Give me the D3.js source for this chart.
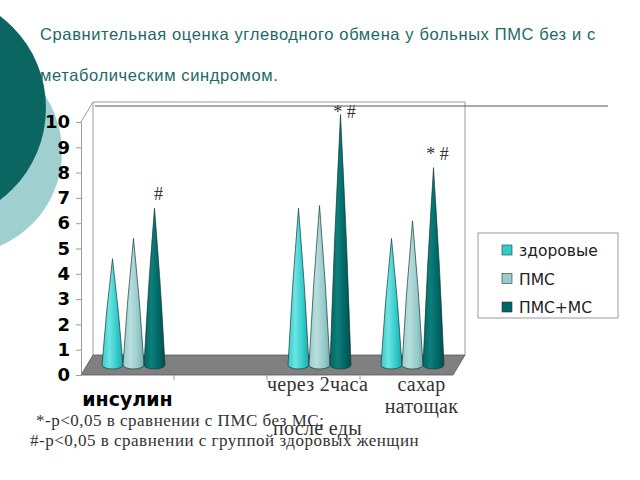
<!DOCTYPE html>
<html>
<head>
<meta charset="utf-8">
<script src="https://cdn.jsdelivr.net/npm/d3@7"></script>
<style>
  body { margin: 0; background: #fff; }
  svg { display: block; }
</style>
</head>
<body>
<div id="chart"></div>
<script>
// data
const categories = ["инсулин", "", "через 2часа после еды", "сахар натощак"];
const categoryLines = [["инсулин"], [], ["через 2часа", "", "после еды"], ["сахар", "натощак"]];
const seriesNames = ["здоровые", "ПМС", "ПМС+МС"];
const healthy = [4.2, null, 6.2, 5.0];
const pms = [5.0, null, 6.3, 5.7];
const pmsMs = [6.2, null, 9.9, 7.8];
const marks = ["#", null, "* #", "* #"];
const yTicks = [0, 1, 2, 3, 4, 5, 6, 7, 8, 9, 10];
const titleLines = ["Сравнительная оценка углеводного обмена у больных ПМС без и с",
                    "метаболическим синдромом."];
const notes = ["*-p<0,05 в сравнении с ПМС без МС;",
               "#-p<0,05 в сравнении с группой здоровых женщин"];

const series = [healthy, pms, pmsMs];
const colors = [
  { base: "#33cccc", light: "#6ee3e3", dark: "#1fa6a6" },
  { base: "#99cccc", light: "#b8dede", dark: "#7aafaf" },
  { base: "#006666", light: "#0d7f7a", dark: "#024e4b" }
];

const W = 640, H = 480;
const svg = d3.select("#chart").append("svg").attr("width", W).attr("height", H);
const defs = svg.append("defs");

// decorative circles on the left
svg.append("circle").attr("cx", -40).attr("cy", 152).attr("r", 102).attr("fill", "#9fcfcf");
svg.append("circle").attr("cx", -69).attr("cy", 108).attr("r", 115).attr("fill", "#0b6561");

// title
svg.selectAll("text.title").data(titleLines).enter().append("text")
  .attr("class", "title")
  .attr("x", 40)
  .attr("y", (d, i) => 40 + i * 41)
  .attr("font-family", "Liberation Sans, Arial, sans-serif")
  .attr("font-size", 16.5)
  .attr("letter-spacing", 0.62)
  .attr("fill", "#1c6a65")
  .text(d => d);

// 3d frame
const dx = 12, dy = -20;
const x = d3.scaleBand().domain(d3.range(categories.length)).range([81, 453]);
const y = d3.scaleLinear().domain([0, 10]).range([375, 122]);

const g = svg.append("g");
// back wall
g.append("path")
  .attr("d", `M${x.range()[0] + dx},${y(0) + dy} L${x.range()[0] + dx},${y(10) + dy} L${x.range()[1] + dx},${y(10) + dy} L${x.range()[1] + dx},${y(0) + dy}`)
  .attr("fill", "#fff").attr("stroke", "#9a9a9a").attr("stroke-width", 1);
g.append("path")
  .attr("d", `M${x.range()[0]},${y(10)} L${x.range()[0] + dx},${y(10) + dy}`)
  .attr("fill", "none").attr("stroke", "#9a9a9a");
// floor
g.append("path")
  .attr("d", `M${x.range()[0]},${y(0)} L${x.range()[0] + dx},${y(0) + dy} L${x.range()[1] + dx},${y(0) + dy} L${x.range()[1]},${y(0)} Z`)
  .attr("fill", "#808080").attr("stroke", "#555").attr("stroke-width", 0.8);

// slide rule line
svg.append("line").attr("x1", 95).attr("x2", 608).attr("y1", 106).attr("y2", 106)
  .attr("stroke", "#555").attr("stroke-width", 1);

// y axis
const yAxis = g.append("g")
  .attr("transform", `translate(${x.range()[0]},0)`)
  .call(d3.axisLeft(y).tickValues(yTicks).tickSize(5).tickPadding(6));
yAxis.select(".domain").attr("stroke", "#9a9a9a");
yAxis.selectAll(".tick line").attr("stroke", "#9a9a9a");
yAxis.selectAll(".tick text")
  .attr("font-family", "DejaVu Sans, Verdana, sans-serif")
  .attr("font-weight", "bold")
  .attr("font-size", 18)
  .attr("fill", "#000");

// x axis ticks between categories
g.selectAll("line.xt").data(d3.range(1, categories.length)).enter().append("line")
  .attr("class", "xt")
  .attr("x1", d => x(d)).attr("x2", d => x(d))
  .attr("y1", y(0)).attr("y2", y(0) + 5)
  .attr("stroke", "#9a9a9a");

// gradients for cones
colors.forEach((c, i) => {
  const lg = defs.append("linearGradient").attr("id", "cone" + i)
    .attr("x1", "0%").attr("x2", "100%").attr("y1", "0%").attr("y2", "0%");
  lg.append("stop").attr("offset", "0%").attr("stop-color", c.base);
  lg.append("stop").attr("offset", "35%").attr("stop-color", c.light);
  lg.append("stop").attr("offset", "70%").attr("stop-color", c.base);
  lg.append("stop").attr("offset", "100%").attr("stop-color", c.dark);
});

// cones
const r = 10.5, ry = 4, step = 21;
const coneX = (ci, si) => x(ci) + x.bandwidth() / 2 + (si - 1) * step + dx / 2;
const baseY = y(0) + dy / 2;

categories.forEach((cat, ci) => {
  series.forEach((vals, si) => {
    const v = vals[ci];
    if (v == null) return;
    const cx = coneX(ci, si);
    const top = y(v) + dy / 2;
    const mid = (top + baseY) / 2;
    const p = `M${cx - r},${baseY}
      Q${cx - r * 0.62},${mid} ${cx},${top}
      Q${cx + r * 0.62},${mid} ${cx + r},${baseY}
      A${r},${ry} 0 0 1 ${cx - r},${baseY} Z`;
    g.append("path").attr("d", p)
      .attr("fill", `url(#cone${si})`)
      .attr("stroke", "#1b3b3a").attr("stroke-width", 0.7);
  });
});

// significance marks above the ПМС+МС cones (kept inside the plot top)
const serif = "Liberation Serif, DejaVu Serif, serif";
marks.forEach((m, ci) => {
  if (!m) return;
  const top = y(pmsMs[ci]) + dy / 2;
  g.append("text")
    .attr("x", coneX(ci, 2) + 4)
    .attr("y", Math.max(top - 8, y(10) - 4))
    .attr("text-anchor", "middle")
    .attr("font-family", serif)
    .attr("font-size", 18)
    .attr("fill", "#333")
    .text(m);
});

// category labels
const labelShift = [0, 0, 4, 15];
categoryLines.forEach((lines, ci) => {
  const bold = ci === 0;
  lines.forEach((line, li) => {
    g.append("text")
      .attr("x", x(ci) + x.bandwidth() / 2 + labelShift[ci])
      .attr("y", bold ? 406 : 391 + li * 22)
      .attr("text-anchor", "middle")
      .attr("font-family", bold ? "DejaVu Sans, Verdana, sans-serif" : serif)
      .attr("font-weight", bold ? "bold" : "normal")
      .attr("font-size", bold ? 19 : 20)
      .attr("letter-spacing", bold ? 0 : 0.3)
      .attr("fill", bold ? "#000" : "#333")
      .text(line);
  });
});

// legend
const lgd = svg.append("g").attr("transform", "translate(478,233)");
lgd.append("rect").attr("width", 140).attr("height", 85)
  .attr("fill", "#fff").attr("stroke", "#9a9a9a");
seriesNames.forEach((n, i) => {
  const row = lgd.append("g").attr("transform", `translate(24,${17 + i * 28.5})`);
  row.append("rect").attr("x", 0).attr("y", -5).attr("width", 10).attr("height", 10)
    .attr("fill", colors[i].base).attr("stroke", "#333").attr("stroke-width", 0.6);
  row.append("text").attr("x", 17).attr("y", 6)
    .attr("font-family", "DejaVu Sans, Verdana, sans-serif")
    .attr("font-size", 15.5)
    .attr("fill", "#222")
    .text(n);
});

// footnotes
svg.selectAll("text.note").data(notes).enter().append("text")
  .attr("class", "note")
  .attr("x", (d, i) => i === 0 ? 36 : 30)
  .attr("y", (d, i) => 426 + i * 20)
  .attr("font-family", serif)
  .attr("font-size", 17)
  .attr("letter-spacing", 0.5)
  .attr("fill", "#333")
  .text(d => d);
</script>
</body>
</html>
